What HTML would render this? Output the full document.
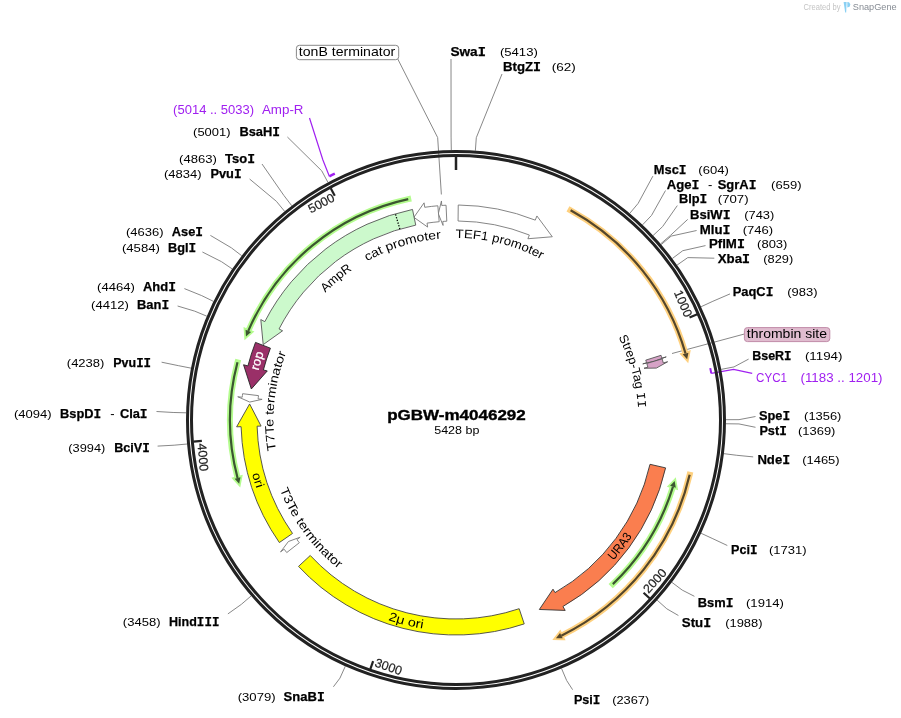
<!DOCTYPE html>
<html><head><meta charset="utf-8"><style>html,body{margin:0;padding:0;background:#fff}svg{display:block;will-change:transform}text{font-family:"Liberation Sans", sans-serif}</style></head>
<body><svg width="901" height="718" viewBox="0 0 901 718">
<rect width="901" height="718" fill="#fff"/>
<polyline points="451.31,150.04 451.09,137.04 451,59" fill="none" stroke="#888" stroke-width="1"/>
<polyline points="475.36,150.7 476.29,137.73 502,74" fill="none" stroke="#888" stroke-width="1"/>
<polyline points="629.77,213.35 638.13,203.4 652.9,176.1" fill="none" stroke="#888" stroke-width="1"/>
<polyline points="653.11,235.48 662.6,226.6 677.3,205.6" fill="none" stroke="#888" stroke-width="1"/>
<polyline points="660.63,243.85 670.48,235.37 687.7,219.4" fill="none" stroke="#888" stroke-width="1"/>
<polyline points="661.24,244.57 671.12,236.12 696.6,230.5" fill="none" stroke="#888" stroke-width="1"/>
<polyline points="672.36,258.48 682.78,250.7 705.5,245.6" fill="none" stroke="#888" stroke-width="1"/>
<polyline points="677.12,265.06 687.77,257.6 714.3,258.2" fill="none" stroke="#888" stroke-width="1"/>
<polyline points="701.09,306.73 712.89,301.27 730,293.9" fill="none" stroke="#888" stroke-width="1"/>
<polyline points="721.21,369.36 733.98,366.92 748.6,359.1" fill="none" stroke="#888" stroke-width="1"/>
<polyline points="726,419.69 739,419.67 755.5,416.5" fill="none" stroke="#888" stroke-width="1"/>
<polyline points="725.97,423.75 738.97,423.93 755.5,427.3" fill="none" stroke="#888" stroke-width="1"/>
<polyline points="723.89,453.67 736.79,455.29 753.2,456.9" fill="none" stroke="#888" stroke-width="1"/>
<polyline points="701.09,533.27 712.89,538.73 727.3,545.5" fill="none" stroke="#888" stroke-width="1"/>
<polyline points="671.8,582.27 682.19,590.08 694.4,596.3" fill="none" stroke="#888" stroke-width="1"/>
<polyline points="657.12,600.14 666.81,608.81 678.4,615.5" fill="none" stroke="#888" stroke-width="1"/>
<polyline points="561.56,668.51 566.64,680.48 572.6,689.7" fill="none" stroke="#888" stroke-width="1"/>
<polyline points="327.91,182.32 321.75,170.87 287.4,137" fill="none" stroke="#888" stroke-width="1"/>
<polyline points="291.74,205.72 283.83,195.4 262,164" fill="none" stroke="#888" stroke-width="1"/>
<polyline points="284.64,211.35 276.39,201.3 249.6,179" fill="none" stroke="#888" stroke-width="1"/>
<polyline points="241.72,255.74 231.4,247.83 210.4,235.4" fill="none" stroke="#888" stroke-width="1"/>
<polyline points="232.22,268.93 221.45,261.65 202.4,252" fill="none" stroke="#888" stroke-width="1"/>
<polyline points="213.46,301.37 201.78,295.65 184.4,288.6" fill="none" stroke="#888" stroke-width="1"/>
<polyline points="206.76,316.17 194.76,311.17 177.6,306" fill="none" stroke="#888" stroke-width="1"/>
<polyline points="191.03,368.13 178.27,365.63 161.6,362.2" fill="none" stroke="#888" stroke-width="1"/>
<polyline points="187.07,444.03 174.12,445.19 157.6,446.1" fill="none" stroke="#888" stroke-width="1"/>
<polyline points="251.17,595.91 241.31,604.38 227.9,613.9" fill="none" stroke="#888" stroke-width="1"/>
<polyline points="345.29,666.26 339.96,678.11 333.4,686.8" fill="none" stroke="#888" stroke-width="1"/>
<polyline points="642.56,224.82 651.54,215.42 665.5,190.5" fill="none" stroke="#888" stroke-width="1"/>
<polyline points="186.1,412.81 173.1,412.47 156.5,411.5" fill="none" stroke="#888" stroke-width="1"/>
<polyline points="397.5,58.5 437.67,137.59 441.36,194.47" fill="none" stroke="#888" stroke-width="1"/>
<polyline points="744.4,334 672,353.5" fill="none" stroke="#888" stroke-width="1"/>
<polyline points="329.43,176.42 322.9,160 309.5,118" fill="none" stroke="#a020f0" stroke-width="1.2"/>
<polyline points="711.28,373.39 733.61,369.32 752.2,373.3" fill="none" stroke="#a020f0" stroke-width="1.2"/>
<circle cx="456" cy="420" r="268.5" fill="none" stroke="#222" stroke-width="3"/>
<circle cx="456" cy="420" r="264.5" fill="none" stroke="#222" stroke-width="3"/>
<line x1="456" y1="156.5" x2="456" y2="170" stroke="#222" stroke-width="2.5"/>
<line x1="697.32" y1="314.18" x2="689.53" y2="317.6" stroke="#222" stroke-width="2.2"/>
<line x1="649.82" y1="598.51" x2="643.57" y2="592.75" stroke="#222" stroke-width="2.2"/>
<line x1="370.35" y1="669.19" x2="373.11" y2="661.15" stroke="#222" stroke-width="2.2"/>
<line x1="193.39" y1="441.63" x2="201.86" y2="440.93" stroke="#222" stroke-width="2.2"/>
<line x1="330.73" y1="188.18" x2="334.77" y2="195.66" stroke="#222" stroke-width="2.2"/>
<text x="-1.5" y="0" font-size="12.5" fill="#222" stroke="#222" stroke-width="0.2" text-anchor="end" transform="translate(685.41,319.4) rotate(66.32)">1000</text>
<text x="2.5" y="0" font-size="12.5" fill="#222" stroke="#222" stroke-width="0.2" text-anchor="start" transform="translate(646.88,595.8) rotate(-47.35)">2000</text>
<text x="2.5" y="0" font-size="12.5" fill="#222" stroke="#222" stroke-width="0.2" text-anchor="start" transform="translate(371.65,665.41) rotate(18.97)">3000</text>
<text x="2.5" y="0" font-size="12.5" fill="#222" stroke="#222" stroke-width="0.2" text-anchor="start" transform="translate(197.38,441.3) rotate(85.29)">4000</text>
<text x="-1.5" y="0" font-size="12.5" fill="#222" stroke="#222" stroke-width="0.2" text-anchor="end" transform="translate(336.91,199.62) rotate(331.61)">5000</text>
<path d="M458.24,205.01 A215,215 0 0 1 535.26,220.14 L536.92,215.96 L552.3,236.76 L527.89,238.74 L529.36,235.02 A199,199 0 0 0 458.07,221.01 Z" fill="#fff" stroke="#777" stroke-width="0.9" stroke-linejoin="miter" />
<path d="M446.05,205.23 A215,215 0 0 0 441.75,205.47 L441.45,200.98 L438.29,213.76 L443.07,225.43 L442.81,221.44 A199,199 0 0 1 446.79,221.21 Z" fill="#fff" stroke="#777" stroke-width="0.9" stroke-linejoin="miter" />
<path d="M437.85,205.77 A215,215 0 0 0 424.73,207.29 L424.08,202.83 L413.88,217.33 L427.64,227.07 L427.06,223.12 A199,199 0 0 1 439.2,221.71 Z" fill="#fff" stroke="#777" stroke-width="0.9" stroke-linejoin="miter" />
<path d="M412.5,209.45 A215,215 0 0 0 264.82,321.64 L260.81,319.59 L263.21,344.62 L282.6,330.79 L279.04,328.96 A199,199 0 0 1 415.74,225.12 Z" fill="#ccf9cc" stroke="#555" stroke-width="0.9" stroke-linejoin="miter" />
<line x1="399.87" y1="229.08" x2="395.36" y2="213.73" stroke="#000" stroke-width="1.3" stroke-dasharray="1.3,1.5"/>
<path d="M255.49,342.4 A215,215 0 0 0 247.92,365.9 L243.56,364.77 L251.34,388.97 L267.27,370.94 L263.4,369.93 A199,199 0 0 1 270.41,348.18 Z" fill="#9a3068" stroke="#222" stroke-width="0.9" stroke-linejoin="miter" />
<path d="M242.62,393.69 A215,215 0 0 0 242.21,397.22 L237.74,396.75 L249.78,402.05 L262.1,399.34 L258.12,398.92 A199,199 0 0 1 258.5,395.64 Z" fill="#fff" stroke="#777" stroke-width="0.9" stroke-linejoin="miter" />
<path d="M279.35,542.56 A215,215 0 0 1 241.1,426.69 L236.61,426.83 L249.62,403.96 L261.09,426.07 L257.1,426.2 A199,199 0 0 0 292.5,533.44 Z" fill="#ffff00" stroke="#444" stroke-width="0.9" stroke-linejoin="miter" />
<path d="M286.74,552.57 A215,215 0 0 1 284.17,549.22 L280.57,551.93 L288.42,541.52 L300.15,537.2 L296.95,539.6 A199,199 0 0 0 299.33,542.71 Z" fill="#fff" stroke="#777" stroke-width="0.9" stroke-linejoin="miter" />
<path d="M298.53,566.38 A215,215 0 0 0 524.23,623.88 L519.16,608.71 A199,199 0 0 1 310.25,555.49 Z" fill="#ffff00" stroke="#444" stroke-width="0.9"/>
<path d="M665.6,467.88 A215,215 0 0 1 562.96,606.51 L565.2,610.41 L539.35,609.48 L553.01,589.16 L555,592.63 A199,199 0 0 0 650,464.31 Z" fill="#fa7e4f" stroke="#333" stroke-width="0.9" stroke-linejoin="miter" />
<path d="M570.6,210.26 A239,239 0 0 1 685.55,353.47" fill="none" stroke="#fed07e" stroke-width="6" stroke-linecap="square"/>
<path d="M688.44,352.64 L687.15,359.26 L682.67,354.31 Z" fill="#fed07e" stroke="#fed07e" stroke-width="3.6" stroke-linejoin="miter"/>
<path d="M570.6,210.26 A239,239 0 0 1 685.55,353.47" fill="none" stroke="#54462b" stroke-width="2.2"/>
<path d="M688.44,352.64 L687.15,359.26 L682.67,354.31 Z" fill="#54462b" stroke="none"/>
<path d="M689.66,474.8 A240,240 0 0 1 561.35,635.64" fill="none" stroke="#fed07e" stroke-width="6" stroke-linecap="square"/>
<path d="M562.67,638.34 L555.93,638.21 L560.04,632.94 Z" fill="#fed07e" stroke="#fed07e" stroke-width="3.6" stroke-linejoin="miter"/>
<path d="M689.66,474.8 A240,240 0 0 1 561.35,635.64" fill="none" stroke="#54462b" stroke-width="2.2"/>
<path d="M562.67,638.34 L555.93,638.21 L560.04,632.94 Z" fill="#54462b" stroke="none"/>
<path d="M612.85,584.1 A227,227 0 0 0 672.96,486.75" fill="none" stroke="#b4fc8e" stroke-width="6" stroke-linecap="square"/>
<path d="M675.83,487.63 L674.65,480.99 L670.1,485.87 Z" fill="#b4fc8e" stroke="#b4fc8e" stroke-width="3.6" stroke-linejoin="miter"/>
<path d="M612.85,584.1 A227,227 0 0 0 672.96,486.75" fill="none" stroke="#3b5630" stroke-width="2.2"/>
<path d="M675.83,487.63 L674.65,480.99 L670.1,485.87 Z" fill="#3b5630" stroke="none"/>
<path d="M408.23,199.11 A226,226 0 0 0 248.29,330.94" fill="none" stroke="#b4fc8e" stroke-width="6" stroke-linecap="square"/>
<path d="M245.53,329.76 L246,336.48 L251.05,332.12 Z" fill="#b4fc8e" stroke="#b4fc8e" stroke-width="3.6" stroke-linejoin="miter"/>
<path d="M408.23,199.11 A226,226 0 0 0 248.29,330.94" fill="none" stroke="#3b5630" stroke-width="2.2"/>
<path d="M245.53,329.76 L246,336.48 L251.05,332.12 Z" fill="#3b5630" stroke="none"/>
<path d="M237.49,362.31 A226,226 0 0 0 237.56,477.96" fill="none" stroke="#b4fc8e" stroke-width="6" stroke-linecap="square"/>
<path d="M234.66,478.73 L239.17,483.74 L240.46,477.19 Z" fill="#b4fc8e" stroke="#b4fc8e" stroke-width="3.6" stroke-linejoin="miter"/>
<path d="M237.49,362.31 A226,226 0 0 0 237.56,477.96" fill="none" stroke="#3b5630" stroke-width="2.2"/>
<path d="M234.66,478.73 L239.17,483.74 L240.46,477.19 Z" fill="#3b5630" stroke="none"/>
<text x="450.4" y="55.8" font-size="12.8" font-weight="bold" fill="#000" textLength="35.5" lengthAdjust="spacingAndGlyphs" text-anchor="start" stroke="#000" stroke-width="0.25">Swa<tspan font-family="Liberation Mono">I</tspan></text>
<text x="499.9" y="55.8" font-size="11.2" fill="#000" textLength="37.9" lengthAdjust="spacingAndGlyphs" text-anchor="start" >(5413)</text>
<text x="503" y="70.5" font-size="12.8" font-weight="bold" fill="#000" textLength="38" lengthAdjust="spacingAndGlyphs" text-anchor="start" stroke="#000" stroke-width="0.25">BtgZ<tspan font-family="Liberation Mono">I</tspan></text>
<text x="551.8" y="70.5" font-size="11.2" fill="#000" textLength="24" lengthAdjust="spacingAndGlyphs" text-anchor="start" >(62)</text>
<text x="653.8" y="173.9" font-size="12.8" font-weight="bold" fill="#000" textLength="32.7" lengthAdjust="spacingAndGlyphs" text-anchor="start" stroke="#000" stroke-width="0.25">Msc<tspan font-family="Liberation Mono">I</tspan></text>
<text x="698.3" y="173.9" font-size="11.2" fill="#000" textLength="30.5" lengthAdjust="spacingAndGlyphs" text-anchor="start" >(604)</text>
<text x="678.9" y="203.4" font-size="12.8" font-weight="bold" fill="#000" textLength="28.3" lengthAdjust="spacingAndGlyphs" text-anchor="start" stroke="#000" stroke-width="0.25">Blp<tspan font-family="Liberation Mono">I</tspan></text>
<text x="717.8" y="203.4" font-size="11.2" fill="#000" textLength="30.8" lengthAdjust="spacingAndGlyphs" text-anchor="start" >(707)</text>
<text x="690" y="218.7" font-size="12.8" font-weight="bold" fill="#000" textLength="40.5" lengthAdjust="spacingAndGlyphs" text-anchor="start" stroke="#000" stroke-width="0.25">BsiW<tspan font-family="Liberation Mono">I</tspan></text>
<text x="744.3" y="218.7" font-size="11.2" fill="#000" textLength="30" lengthAdjust="spacingAndGlyphs" text-anchor="start" >(743)</text>
<text x="699.8" y="233.8" font-size="12.8" font-weight="bold" fill="#000" textLength="30.7" lengthAdjust="spacingAndGlyphs" text-anchor="start" stroke="#000" stroke-width="0.25">Mlu<tspan font-family="Liberation Mono">I</tspan></text>
<text x="742.7" y="233.8" font-size="11.2" fill="#000" textLength="30.5" lengthAdjust="spacingAndGlyphs" text-anchor="start" >(746)</text>
<text x="708.9" y="248.2" font-size="12.8" font-weight="bold" fill="#000" textLength="36" lengthAdjust="spacingAndGlyphs" text-anchor="start" stroke="#000" stroke-width="0.25">PflM<tspan font-family="Liberation Mono">I</tspan></text>
<text x="757.1" y="248.2" font-size="11.2" fill="#000" textLength="30.3" lengthAdjust="spacingAndGlyphs" text-anchor="start" >(803)</text>
<text x="717.7" y="263.1" font-size="12.8" font-weight="bold" fill="#000" textLength="32.3" lengthAdjust="spacingAndGlyphs" text-anchor="start" stroke="#000" stroke-width="0.25">Xba<tspan font-family="Liberation Mono">I</tspan></text>
<text x="763.3" y="263.1" font-size="11.2" fill="#000" textLength="29.9" lengthAdjust="spacingAndGlyphs" text-anchor="start" >(829)</text>
<text x="732.7" y="296.1" font-size="12.8" font-weight="bold" fill="#000" textLength="40.7" lengthAdjust="spacingAndGlyphs" text-anchor="start" stroke="#000" stroke-width="0.25">PaqC<tspan font-family="Liberation Mono">I</tspan></text>
<text x="787.2" y="296.1" font-size="11.2" fill="#000" textLength="30.3" lengthAdjust="spacingAndGlyphs" text-anchor="start" >(983)</text>
<text x="752.2" y="359.8" font-size="12.8" font-weight="bold" fill="#000" textLength="39.4" lengthAdjust="spacingAndGlyphs" text-anchor="start" stroke="#000" stroke-width="0.25">BseR<tspan font-family="Liberation Mono">I</tspan></text>
<text x="804.9" y="359.8" font-size="11.2" fill="#000" textLength="37.6" lengthAdjust="spacingAndGlyphs" text-anchor="start" >(1194)</text>
<text x="758.9" y="419.5" font-size="12.8" font-weight="bold" fill="#000" textLength="31.2" lengthAdjust="spacingAndGlyphs" text-anchor="start" stroke="#000" stroke-width="0.25">Spe<tspan font-family="Liberation Mono">I</tspan></text>
<text x="804.1" y="419.5" font-size="11.2" fill="#000" textLength="37.3" lengthAdjust="spacingAndGlyphs" text-anchor="start" >(1356)</text>
<text x="759.4" y="434.5" font-size="12.8" font-weight="bold" fill="#000" textLength="27.4" lengthAdjust="spacingAndGlyphs" text-anchor="start" stroke="#000" stroke-width="0.25">Pst<tspan font-family="Liberation Mono">I</tspan></text>
<text x="798" y="434.5" font-size="11.2" fill="#000" textLength="37.4" lengthAdjust="spacingAndGlyphs" text-anchor="start" >(1369)</text>
<text x="757.4" y="463.7" font-size="12.8" font-weight="bold" fill="#000" textLength="32.7" lengthAdjust="spacingAndGlyphs" text-anchor="start" stroke="#000" stroke-width="0.25">Nde<tspan font-family="Liberation Mono">I</tspan></text>
<text x="802.2" y="463.7" font-size="11.2" fill="#000" textLength="37.4" lengthAdjust="spacingAndGlyphs" text-anchor="start" >(1465)</text>
<text x="731" y="553.8" font-size="12.8" font-weight="bold" fill="#000" textLength="26.5" lengthAdjust="spacingAndGlyphs" text-anchor="start" stroke="#000" stroke-width="0.25">Pci<tspan font-family="Liberation Mono">I</tspan></text>
<text x="768.9" y="553.8" font-size="11.2" fill="#000" textLength="37.6" lengthAdjust="spacingAndGlyphs" text-anchor="start" >(1731)</text>
<text x="697.8" y="606.7" font-size="12.8" font-weight="bold" fill="#000" textLength="35.7" lengthAdjust="spacingAndGlyphs" text-anchor="start" stroke="#000" stroke-width="0.25">Bsm<tspan font-family="Liberation Mono">I</tspan></text>
<text x="746" y="606.7" font-size="11.2" fill="#000" textLength="37.8" lengthAdjust="spacingAndGlyphs" text-anchor="start" >(1914)</text>
<text x="681.8" y="626.7" font-size="12.8" font-weight="bold" fill="#000" textLength="29.3" lengthAdjust="spacingAndGlyphs" text-anchor="start" stroke="#000" stroke-width="0.25">Stu<tspan font-family="Liberation Mono">I</tspan></text>
<text x="725.2" y="626.7" font-size="11.2" fill="#000" textLength="37.3" lengthAdjust="spacingAndGlyphs" text-anchor="start" >(1988)</text>
<text x="573.9" y="703.7" font-size="12.8" font-weight="bold" fill="#000" textLength="26.5" lengthAdjust="spacingAndGlyphs" text-anchor="start" stroke="#000" stroke-width="0.25">Psi<tspan font-family="Liberation Mono">I</tspan></text>
<text x="612.2" y="703.7" font-size="11.2" fill="#000" textLength="37.1" lengthAdjust="spacingAndGlyphs" text-anchor="start" >(2367)</text>
<text x="239.4" y="136" font-size="12.8" font-weight="bold" fill="#000" textLength="40.6" lengthAdjust="spacingAndGlyphs" text-anchor="start" stroke="#000" stroke-width="0.25">BsaH<tspan font-family="Liberation Mono">I</tspan></text>
<text x="193.1" y="136" font-size="11.2" fill="#000" textLength="37.4" lengthAdjust="spacingAndGlyphs" text-anchor="start" >(5001)</text>
<text x="225" y="163" font-size="12.8" font-weight="bold" fill="#000" textLength="30" lengthAdjust="spacingAndGlyphs" text-anchor="start" stroke="#000" stroke-width="0.25">Tso<tspan font-family="Liberation Mono">I</tspan></text>
<text x="179.1" y="163" font-size="11.2" fill="#000" textLength="37.8" lengthAdjust="spacingAndGlyphs" text-anchor="start" >(4863)</text>
<text x="210.4" y="178" font-size="12.8" font-weight="bold" fill="#000" textLength="31.2" lengthAdjust="spacingAndGlyphs" text-anchor="start" stroke="#000" stroke-width="0.25">Pvu<tspan font-family="Liberation Mono">I</tspan></text>
<text x="163.9" y="178" font-size="11.2" fill="#000" textLength="37.6" lengthAdjust="spacingAndGlyphs" text-anchor="start" >(4834)</text>
<text x="171.8" y="236" font-size="12.8" font-weight="bold" fill="#000" textLength="31.2" lengthAdjust="spacingAndGlyphs" text-anchor="start" stroke="#000" stroke-width="0.25">Ase<tspan font-family="Liberation Mono">I</tspan></text>
<text x="125.9" y="236" font-size="11.2" fill="#000" textLength="37.6" lengthAdjust="spacingAndGlyphs" text-anchor="start" >(4636)</text>
<text x="168" y="252" font-size="12.8" font-weight="bold" fill="#000" textLength="28.2" lengthAdjust="spacingAndGlyphs" text-anchor="start" stroke="#000" stroke-width="0.25">Bgl<tspan font-family="Liberation Mono">I</tspan></text>
<text x="121.9" y="252" font-size="11.2" fill="#000" textLength="38" lengthAdjust="spacingAndGlyphs" text-anchor="start" >(4584)</text>
<text x="143" y="291" font-size="12.8" font-weight="bold" fill="#000" textLength="33" lengthAdjust="spacingAndGlyphs" text-anchor="start" stroke="#000" stroke-width="0.25">Ahd<tspan font-family="Liberation Mono">I</tspan></text>
<text x="97.1" y="291" font-size="11.2" fill="#000" textLength="37.8" lengthAdjust="spacingAndGlyphs" text-anchor="start" >(4464)</text>
<text x="137" y="309" font-size="12.8" font-weight="bold" fill="#000" textLength="32.2" lengthAdjust="spacingAndGlyphs" text-anchor="start" stroke="#000" stroke-width="0.25">Ban<tspan font-family="Liberation Mono">I</tspan></text>
<text x="91.1" y="309" font-size="11.2" fill="#000" textLength="37.8" lengthAdjust="spacingAndGlyphs" text-anchor="start" >(4412)</text>
<text x="113.3" y="367.1" font-size="12.8" font-weight="bold" fill="#000" textLength="37.8" lengthAdjust="spacingAndGlyphs" text-anchor="start" stroke="#000" stroke-width="0.25">Pvu<tspan font-family="Liberation Mono">I</tspan><tspan font-family="Liberation Mono">I</tspan></text>
<text x="66.8" y="367.1" font-size="11.2" fill="#000" textLength="37.6" lengthAdjust="spacingAndGlyphs" text-anchor="start" >(4238)</text>
<text x="114.2" y="451.7" font-size="12.8" font-weight="bold" fill="#000" textLength="35.6" lengthAdjust="spacingAndGlyphs" text-anchor="start" stroke="#000" stroke-width="0.25">BciV<tspan font-family="Liberation Mono">I</tspan></text>
<text x="68.3" y="451.7" font-size="11.2" fill="#000" textLength="37" lengthAdjust="spacingAndGlyphs" text-anchor="start" >(3994)</text>
<text x="169.1" y="625.8" font-size="12.8" font-weight="bold" fill="#000" textLength="50.3" lengthAdjust="spacingAndGlyphs" text-anchor="start" stroke="#000" stroke-width="0.25">Hind<tspan font-family="Liberation Mono">I</tspan><tspan font-family="Liberation Mono">I</tspan><tspan font-family="Liberation Mono">I</tspan></text>
<text x="122.8" y="625.8" font-size="11.2" fill="#000" textLength="37.7" lengthAdjust="spacingAndGlyphs" text-anchor="start" >(3458)</text>
<text x="283.6" y="700.7" font-size="12.8" font-weight="bold" fill="#000" textLength="41.2" lengthAdjust="spacingAndGlyphs" text-anchor="start" stroke="#000" stroke-width="0.25">SnaB<tspan font-family="Liberation Mono">I</tspan></text>
<text x="237.7" y="700.7" font-size="11.2" fill="#000" textLength="37.9" lengthAdjust="spacingAndGlyphs" text-anchor="start" >(3079)</text>
<text x="666.7" y="188.7" font-size="12.8" font-weight="bold" fill="#000" textLength="32.7" lengthAdjust="spacingAndGlyphs" text-anchor="start" stroke="#000" stroke-width="0.25">Age<tspan font-family="Liberation Mono">I</tspan></text>
<text x="708" y="188.7" font-size="13" fill="#000" text-anchor="start" >-</text>
<text x="717.7" y="188.7" font-size="12.8" font-weight="bold" fill="#000" textLength="38.8" lengthAdjust="spacingAndGlyphs" text-anchor="start" stroke="#000" stroke-width="0.25">SgrA<tspan font-family="Liberation Mono">I</tspan></text>
<text x="771.1" y="188.7" font-size="11.5" fill="#000" textLength="30.4" lengthAdjust="spacingAndGlyphs" text-anchor="start" >(659)</text>
<text x="13.9" y="418.1" font-size="11.2" fill="#000" textLength="37.7" lengthAdjust="spacingAndGlyphs" text-anchor="start" >(4094)</text>
<text x="60" y="418.1" font-size="12.8" font-weight="bold" fill="#000" textLength="41.2" lengthAdjust="spacingAndGlyphs" text-anchor="start" stroke="#000" stroke-width="0.25">BspD<tspan font-family="Liberation Mono">I</tspan></text>
<text x="110.2" y="418.1" font-size="13" fill="#000" text-anchor="start" >-</text>
<text x="119.9" y="418.1" font-size="12.8" font-weight="bold" fill="#000" textLength="27.7" lengthAdjust="spacingAndGlyphs" text-anchor="start" stroke="#000" stroke-width="0.25">Cla<tspan font-family="Liberation Mono">I</tspan></text>
<text x="173.1" y="114" font-size="12.3" fill="#a020f0" textLength="81" lengthAdjust="spacingAndGlyphs" text-anchor="start" >(5014 .. 5033)</text>
<text x="261.9" y="114" font-size="12.3" fill="#a020f0" textLength="41.6" lengthAdjust="spacingAndGlyphs" text-anchor="start" >Amp-R</text>
<text x="756.1" y="381.5" font-size="12.3" fill="#a020f0" textLength="30.9" lengthAdjust="spacingAndGlyphs" text-anchor="start" >CYC1</text>
<text x="800.5" y="381.5" font-size="12.3" fill="#a020f0" textLength="82" lengthAdjust="spacingAndGlyphs" text-anchor="start" >(1183 .. 1201)</text>
<rect x="296.4" y="45.3" width="102.3" height="14.4" rx="3" fill="#fff" stroke="#888" stroke-width="1"/>
<text x="298.8" y="55.7" font-size="12.2" fill="#000" textLength="96.4" lengthAdjust="spacingAndGlyphs" text-anchor="start" >tonB terminator</text>
<rect x="744.4" y="327.6" width="85.4" height="14" rx="3" fill="#e0bccf" stroke="#c08ca8" stroke-width="1"/>
<text x="746.8" y="337.6" font-size="12.2" fill="#000" textLength="80.2" lengthAdjust="spacingAndGlyphs" text-anchor="start" >thrombin site</text>
<text x="387.2" y="419.6" font-size="14" font-weight="bold" fill="#000" textLength="138.6" lengthAdjust="spacingAndGlyphs" text-anchor="start" stroke="#000" stroke-width="0.35">pGBW-m4046292</text>
<text x="434.2" y="433.7" font-size="11" fill="#000" textLength="45.2" lengthAdjust="spacingAndGlyphs" text-anchor="start" >5428 bp</text>
<text x="803.6" y="10.3" font-size="8.6" fill="#c4c4c4" textLength="36.9" lengthAdjust="spacingAndGlyphs" text-anchor="start" >Created by</text>
<text x="852.8" y="10.3" font-size="9.4" fill="#868c94" textLength="43.8" lengthAdjust="spacingAndGlyphs" text-anchor="start" >SnapGene</text>
<path d="M843.6,2 L846.6,2 L846.2,12.4 L845.2,12.4 Z" fill="#8ad0f3"/>
<path d="M847.3,2 L849,2.3 L850.4,4.2 L849.6,6.8 L847.3,7.4 Z" fill="#8ad0f3"/>
<path d="M329.43,176.42 A274.5,274.5 0 0 1 334.82,173.7" fill="none" stroke="#a020f0" stroke-width="2.4"/>
<path d="M710.25,368.09 A259.5,259.5 0 0 1 711.28,373.39" fill="none" stroke="#a020f0" stroke-width="2"/>
<path d="M661.04,355.32 A215,215 0 0 1 661.92,358.17 L666.23,356.88 L654.46,361.16 L642.76,363.92 L646.59,362.77 A199,199 0 0 0 645.78,360.13 Z" fill="#d6a2c6" stroke="#555" stroke-width="0.9"/>
<path d="M662.13,358.89 A215,215 0 0 1 663.29,362.95 L667.63,361.76 L656.38,368.08 L644.01,368.26 L647.87,367.2 A199,199 0 0 0 646.79,363.43 Z" fill="#d6a2c6" stroke="#555" stroke-width="0.9"/>
<text font-size="12.3" fill="#000" textLength="89" lengthAdjust="spacingAndGlyphs"><textPath href="#p_tef" startOffset="50%" text-anchor="middle">TEF1 promoter</textPath></text>
<text font-size="12.3" fill="#000" textLength="78" lengthAdjust="spacingAndGlyphs"><textPath href="#p_cat" startOffset="50%" text-anchor="middle">cat promoter</textPath></text>
<text font-size="12.3" fill="#000" textLength="35.5" lengthAdjust="spacingAndGlyphs"><textPath href="#p_amp" startOffset="50%" text-anchor="middle">AmpR</textPath></text>
<text font-size="12.3" fill="#000" textLength="36" lengthAdjust="spacingAndGlyphs"><textPath href="#p_2mu" startOffset="50%" text-anchor="middle">2μ ori</textPath></text>
<text font-size="12.3" fill="#000" textLength="31" lengthAdjust="spacingAndGlyphs"><textPath href="#p_ura" startOffset="50%" text-anchor="middle">URA3</textPath></text>
<text font-size="12.3" fill="#000" textLength="15" lengthAdjust="spacingAndGlyphs"><textPath href="#p_ori" startOffset="50%" text-anchor="middle">ori</textPath></text>
<text font-size="12.3" fill="#fff" textLength="18.5" lengthAdjust="spacingAndGlyphs" stroke="#fff" stroke-width="0.3"><textPath href="#p_rop" startOffset="50%" text-anchor="middle">rop</textPath></text>
<text font-size="12.3" fill="#000" textLength="99" lengthAdjust="spacingAndGlyphs"><textPath href="#p_t7" startOffset="50%" text-anchor="middle">T7Te terminator</textPath></text>
<text font-size="12.3" fill="#000" textLength="99.5" lengthAdjust="spacingAndGlyphs"><textPath href="#p_t3" startOffset="50%" text-anchor="middle">T3Te terminator</textPath></text>
<text font-size="12.3" fill="#000" textLength="74" lengthAdjust="spacingAndGlyphs"><textPath href="#p_strep" startOffset="50%" text-anchor="middle">Strep-Tag <tspan font-family="Liberation Mono">II</tspan></textPath></text>
<defs><path id="p_tef" d="M405.53,245.14 A182,182 0 0 1 582.2,288.86"/><path id="p_cat" d="M322.89,295.88 A182,182 0 0 1 496.94,242.66"/><path id="p_amp" d="M297.63,329.3 A182.5,182.5 0 0 1 392.98,248.73"/><path id="p_2mu" d="M338.2,595.3 A211.2,211.2 0 0 0 478.44,630"/><path id="p_ura" d="M569.06,598.15 A211,211 0 0 0 657.12,483.8"/><path id="p_ori" d="M245.31,408.59 A211,211 0 0 0 287.27,546.69"/><path id="p_rop" d="M252.86,432.07 A203.5,203.5 0 0 1 292.63,298.67"/><path id="p_t7" d="M289.28,494.23 A182.5,182.5 0 0 1 308.35,312.73"/><path id="p_t3" d="M267.76,441.78 A189.5,189.5 0 0 0 380.74,593.91"/><path id="p_strep" d="M584.14,290.06 A182.5,182.5 0 0 1 632.61,466"/></defs>
</svg></body></html>
